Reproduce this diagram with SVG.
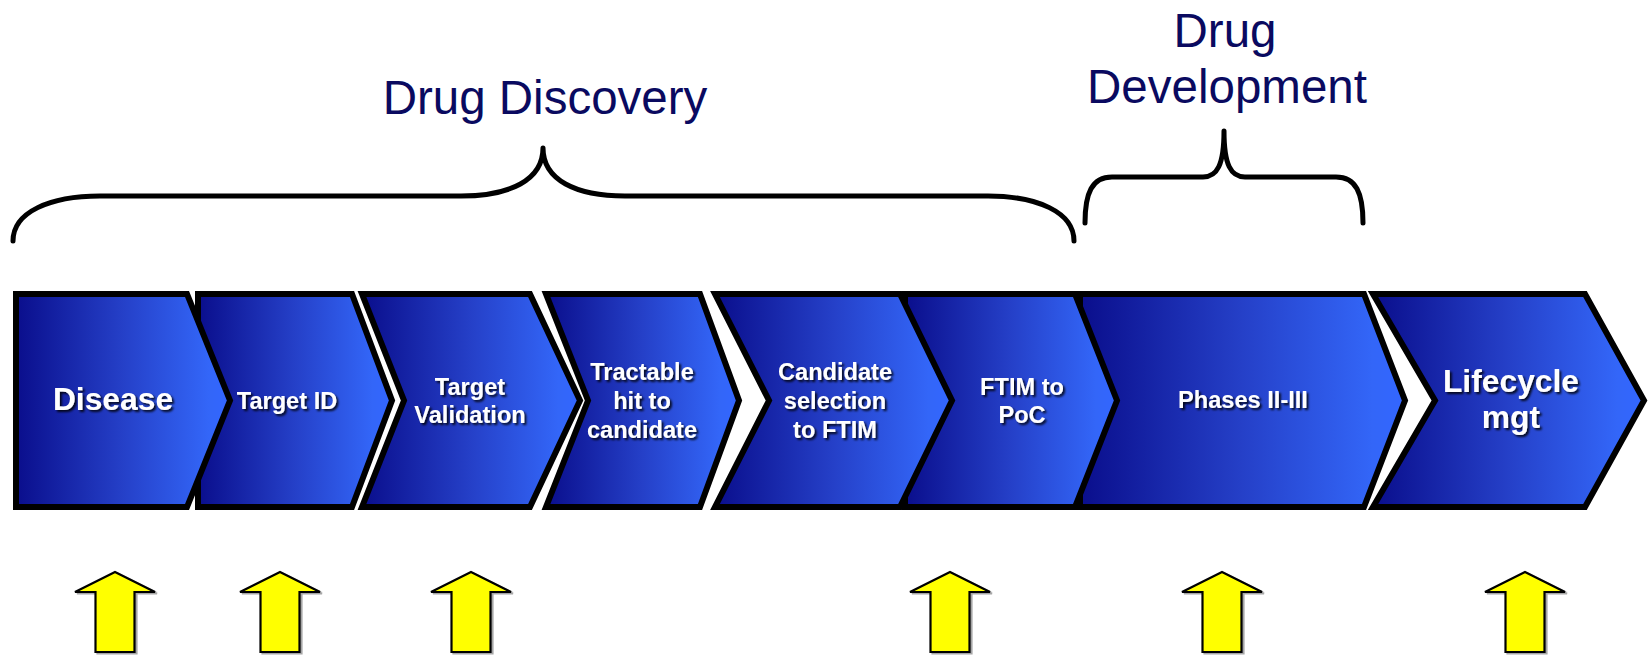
<svg xmlns="http://www.w3.org/2000/svg" width="1652" height="656" viewBox="0 0 1652 656">
<style>
.stage{stroke:#000;stroke-width:6;stroke-linejoin:miter;fill:url(#blueGrad)}
.lbl{font-family:"Liberation Sans",Arial,sans-serif;font-weight:bold;fill:#fff;text-anchor:middle;filter:url(#shadow)}
.s23{font-size:23.6px}
.s31{font-size:31.8px}
.title{font-family:"Liberation Sans",Arial,sans-serif;font-size:47.5px;fill:#0a0a60;text-anchor:middle}
.brace{fill:none;stroke:#000;stroke-width:5;stroke-linecap:round;stroke-linejoin:round}
.yarrow{fill:#ffff00;stroke:#000;stroke-width:2.2;stroke-linejoin:miter}
</style>
<defs>
<linearGradient id="blueGrad" x1="0" y1="0" x2="1" y2="0">
<stop offset="0" stop-color="#0a0e8c"/>
<stop offset="0.5" stop-color="#2540c8"/>
<stop offset="0.9" stop-color="#3366f8"/>
<stop offset="1" stop-color="#3366ff"/>
</linearGradient>
<filter id="shadow" x="-10%" y="-30%" width="130%" height="170%">
<feDropShadow dx="2" dy="2" stdDeviation="0.8" flood-color="#000" flood-opacity="0.85"/>
</filter>
<filter id="ashadow" x="-20%" y="-20%" width="140%" height="140%">
<feDropShadow dx="2" dy="1.5" stdDeviation="0.6" flood-color="#000" flood-opacity="0.35"/>
</filter>
<path id="uparrow" d="M0,-80 L40,-60 L19.5,-60 L19.5,0 L-19.5,0 L-19.5,-60 L-40,-60 Z"/>
</defs>
<rect width="1652" height="656" fill="#fff"/>

<g id="title-discovery"><text class="title" x="545" y="114">Drug Discovery</text></g>
<g id="title-development"><text class="title" x="1225" y="47">Drug</text><text class="title" x="1227" y="103">Development</text></g>

<g id="connectors">
<path class="brace" d="M13,241 C13,212 50,196 100,196 L461,196 C510,196 543,180 543,148 C543,180 576,196 625,196 L988,196 C1037,196 1074,212 1074,241"/>
<path class="brace" d="M1085,223 C1085,193 1092,177 1112,177 L1203,177 C1217,177 1224,165 1224,131 C1224,165 1231,177 1245,177 L1336,177 C1356,177 1363,193 1363,223"/>
</g>

<g id="lifecycle"><path class="stage" d="M1373,294 L1585,294 L1644,400.5 L1585,507 L1373,507 L1435,400.5 Z"/>
<text class="lbl s31" x="1511" y="392">Lifecycle</text><text class="lbl s31" x="1511" y="428">mgt</text></g>
<g id="phases"><path class="stage" d="M1080,294 L1364,294 L1405,400.5 L1364,507 L1080,507 Z"/>
<text class="lbl s23" x="1243" y="408">Phases II-III</text></g>
<g id="ftim-poc"><path class="stage" d="M905,294 L1075,294 L1117,400.5 L1075,507 L905,507 Z"/>
<text class="lbl s23" x="1022" y="395">FTIM to</text><text class="lbl s23" x="1022" y="423">PoC</text></g>
<g id="candidate"><path class="stage" d="M715,294 L900,294 L952,400.5 L900,507 L715,507 L769,400.5 Z"/>
<text class="lbl s23" x="835" y="380">Candidate</text><text class="lbl s23" x="835" y="409">selection</text><text class="lbl s23" x="835" y="438">to FTIM</text></g>
<g id="tractable"><path class="stage" d="M546,294 L700,294 L739,400.5 L700,507 L546,507 L588,400.5 Z"/>
<text class="lbl s23" x="642" y="380">Tractable</text><text class="lbl s23" x="642" y="409">hit to</text><text class="lbl s23" x="642" y="438">candidate</text></g>
<g id="target-validation"><path class="stage" d="M362,294 L530,294 L580,400.5 L530,507 L362,507 L404,400.5 Z"/>
<text class="lbl s23" x="470" y="395">Target</text><text class="lbl s23" x="470" y="423">Validation</text></g>
<g id="target-id"><path class="stage" d="M198,294 L352,294 L392,400.5 L352,507 L198,507 Z"/>
<text class="lbl s23" x="287" y="409">Target ID</text></g>
<g id="disease"><path class="stage" d="M16,294 L187,294 L230,400.5 L187,507 L16,507 Z"/>
<text class="lbl s31" x="113" y="410">Disease</text></g>

<g id="arrow-1" filter="url(#ashadow)"><use href="#uparrow" class="yarrow" x="115" y="652"/></g>
<g id="arrow-2" filter="url(#ashadow)"><use href="#uparrow" class="yarrow" x="280" y="652"/></g>
<g id="arrow-3" filter="url(#ashadow)"><use href="#uparrow" class="yarrow" x="471" y="652"/></g>
<g id="arrow-4" filter="url(#ashadow)"><use href="#uparrow" class="yarrow" x="950" y="652"/></g>
<g id="arrow-5" filter="url(#ashadow)"><use href="#uparrow" class="yarrow" x="1222" y="652"/></g>
<g id="arrow-6" filter="url(#ashadow)"><use href="#uparrow" class="yarrow" x="1525" y="652"/></g>
</svg>
